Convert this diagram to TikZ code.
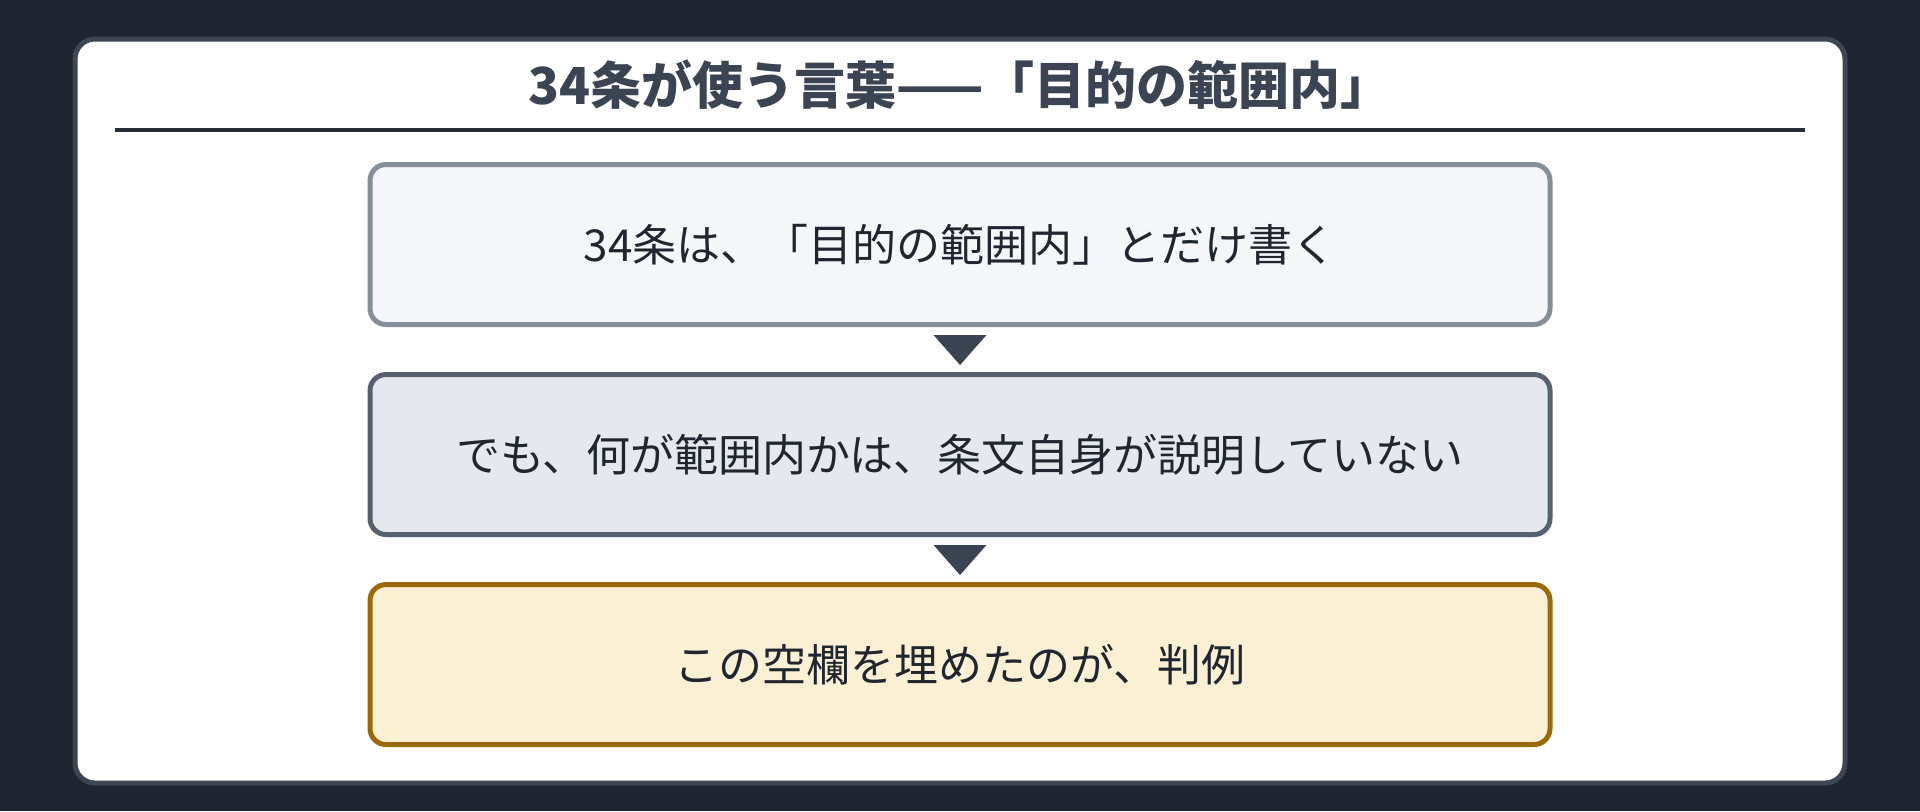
\documentclass[tikz,border=0pt]{standalone}
\usepackage{fontspec}
\setmainfont{Noto Sans CJK JP}
\usepackage{xcolor}
\usetikzlibrary{positioning}
\definecolor{bgdark}{HTML}{1E2530}
\definecolor{panelline}{HTML}{3D4654}
\definecolor{titleink}{HTML}{3B4452}
\definecolor{bodyink}{HTML}{1F2630}
\definecolor{ruleink}{HTML}{262D38}
\definecolor{onefill}{HTML}{F4F6F8}
\definecolor{oneline}{HTML}{868E9A}
\definecolor{twofill}{HTML}{E5E8EC}
\definecolor{twoline}{HTML}{586170}
\definecolor{threefill}{HTML}{FBEFD4}
\definecolor{threeline}{HTML}{9A6A0A}

\begin{document}
\begin{tikzpicture}[x=0.5pt, y=-0.5pt, boxstage/.style={draw, shape=rectangle, rounded corners=8pt, line width=2.5pt, minimum width=590pt, minimum height=80pt, text=bodyink, font=\fontsize{22pt}{26pt}\selectfont}, downtri/.style={fill=titleink}]
\useasboundingbox (0,0) rectangle (1920,811);
\fill[bgdark] (0,0) rectangle (1920,811);
\draw[panelline, fill=white, line width=2.5pt, rounded corners=10pt] (75,39) rectangle (1845,783);
\node[text=titleink, font=\fontsize{25.5pt}{30pt}\selectfont\bfseries] (title) at (960,85) {34条が使う言葉——「目的の範囲内」};
\coordinate (rl) at (115,130);
\coordinate (rr) at (1805,130);
\draw[ruleink, line width=1.6pt] (rl) -- (rr);
\node[boxstage, fill=onefill, draw=oneline] (art) at (960,244.5) {34条は、「目的の範囲内」とだけ書く};
\node[boxstage, fill=twofill, draw=twoline, below=22.5pt of art] (gap) {でも、何が範囲内かは、条文自身が説明していない};
\node[boxstage, fill=threefill, draw=threeline, below=22.5pt of gap] (case) {この空欄を埋めたのが、判例};
\fill[downtri] ([xshift=-13.25pt, yshift=-4pt] art.south) -- ([xshift=13.25pt, yshift=-4pt] art.south) -- ([yshift=3.5pt] gap.north) -- cycle;
\fill[downtri] ([xshift=-13.25pt, yshift=-4pt] gap.south) -- ([xshift=13.25pt, yshift=-4pt] gap.south) -- ([yshift=3.5pt] case.north) -- cycle;
\end{tikzpicture}
\end{document}
